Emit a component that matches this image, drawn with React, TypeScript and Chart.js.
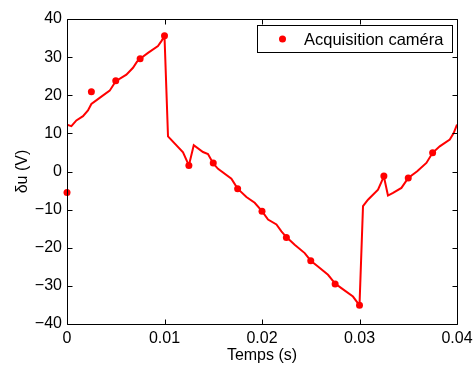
import React, { useEffect, useRef } from 'react';
import { Chart, registerables } from 'chart.js';

Chart.register(...registerables);

// Continuous signal (line)
const lineTimes = [
  0, 0.00045, 0.00096, 0.00164, 0.00215, 0.0025, 0.00335, 0.00438, 0.005, 0.00609,
  0.00677, 0.00718, 0.0075, 0.00831, 0.00933, 0.00968, 0.01, 0.01036, 0.0119, 0.0125,
  0.013, 0.01395, 0.01446, 0.015, 0.01549, 0.01686, 0.0175, 0.0184, 0.01925, 0.02,
  0.02062, 0.02148, 0.02199, 0.0225, 0.02335, 0.02438, 0.025, 0.02574, 0.02677, 0.0275,
  0.02814, 0.02933, 0.03, 0.03036, 0.03087, 0.0319, 0.0325, 0.03292, 0.03344, 0.0343,
  0.035, 0.03592, 0.03686, 0.0375, 0.03823, 0.03926, 0.03966, 0.04,
];
const lineValues = [
  12.3, 11.9, 13.4, 14.5, 16.0, 17.7, 19.3, 21.2, 23.7, 25.4,
  27.2, 28.8, 29.6, 31.1, 32.9, 34.2, 35.5, 9.2, 5.0, 1.6,
  6.9, 5.1, 4.6, 2.1, 0.7, -1.9, -4.5, -6.7, -8.2, -10.4,
  -12.6, -13.9, -15.7, -17.2, -19.2, -21.4, -23.4, -24.9, -27.1, -29.4,
  -30.6, -32.8, -35.1, -9.1, -7.4, -4.75, -1.3, -6.3, -5.6, -4.3,
  -1.7, 0.05, 2.25, 4.9, 6.6, 8.4, 10.1, 12.3,
];

// Camera acquisitions (markers)
const markerTimes = [
  0, 0.0025, 0.005, 0.0075, 0.01, 0.0125, 0.015, 0.0175,
  0.02, 0.0225, 0.025, 0.0275, 0.03, 0.0325, 0.035, 0.0375,
];
const markerValues = [
  -5.5, 20.9, 23.8, 29.6, 35.6, 1.6, 2.2, -4.5,
  -10.4, -17.3, -23.4, -29.5, -35.1, -1.2, -1.7, 4.9,
];

const xTicks = [0, 0.01, 0.02, 0.03, 0.04];
const xTickLabels = ['0', '0.01', '0.02', '0.03', '0.04'];
const yTicks = [-40, -30, -20, -10, 0, 10, 20, 30, 40];
const yTickLabels = ['\u221240', '\u221230', '\u221220', '\u221210', '0', '10', '20', '30', '40'];

const legendLabel = 'Acquisition caméra';
const xTitle = 'Temps (s)';
const yTitle = 'δu (V)';

const FONT = "'Liberation Sans', Arial, Helvetica, sans-serif";
const RED = '#ff0000';

const framePlugin = {
  id: 'frameAndLegend',
  afterDraw(chart: any) {
    const { ctx, chartArea } = chart;
    const { left, right, top, bottom } = chartArea;
    const xs = chart.scales.x;
    const ys = chart.scales.y;
    const tl = 5;
    ctx.save();
    ctx.strokeStyle = '#000';
    ctx.lineWidth = 1;
    const L = Math.round(left) + 0.5;
    const R = Math.round(right) + 0.5;
    const T = Math.round(top) + 0.5;
    const B = Math.round(bottom) + 0.5;
    ctx.beginPath();
    ctx.rect(L, T, R - L, B - T);
    ctx.stroke();
    ctx.beginPath();
    xTicks.forEach((v) => {
      const px = Math.round(xs.getPixelForValue(v)) + 0.5;
      ctx.moveTo(px, B);
      ctx.lineTo(px, B - tl);
      ctx.moveTo(px, T);
      ctx.lineTo(px, T + tl);
    });
    yTicks.forEach((v) => {
      const py = Math.round(ys.getPixelForValue(v)) + 0.5;
      ctx.moveTo(L, py);
      ctx.lineTo(L + tl, py);
      ctx.moveTo(R, py);
      ctx.lineTo(R - tl, py);
    });
    ctx.stroke();

    // Legend box
    const lx = Math.round(right - 200) + 0.5;
    const ly = Math.round(top + 6) + 0.5;
    const lw = 195;
    const lh = 27;
    ctx.fillStyle = '#fff';
    ctx.fillRect(lx, ly, lw, lh);
    ctx.strokeRect(lx, ly, lw, lh);
    ctx.fillStyle = RED;
    ctx.beginPath();
    ctx.arc(lx + 25, ly + lh / 2, 3.5, 0, Math.PI * 2);
    ctx.fill();
    ctx.fillStyle = '#000';
    ctx.font = `16.5px ${FONT}`;
    ctx.textBaseline = 'middle';
    ctx.textAlign = 'left';
    ctx.fillText(legendLabel, lx + 46.5, ly + lh / 2 + 1);
    ctx.restore();
  },
};

export default function App() {
  const ref = useRef<HTMLCanvasElement | null>(null);

  useEffect(() => {
    if (!ref.current) return;
    const lineData = lineTimes.map((t, i) => ({ x: t, y: lineValues[i] }));
    const markerData = markerTimes.map((t, i) => ({ x: t, y: markerValues[i] }));
    const chart = new Chart(ref.current, {
      type: 'line',
      data: {
        datasets: [
          {
            label: 'signal',
            data: lineData,
            borderColor: RED,
            backgroundColor: RED,
            borderWidth: 2,
            pointRadius: 0,
            tension: 0,
            order: 2,
          },
          {
            label: legendLabel,
            data: markerData,
            showLine: false,
            borderColor: RED,
            backgroundColor: RED,
            pointRadius: 3.5,
            pointBorderWidth: 0,
            clip: false as any,
            order: 1,
          },
        ],
      },
      options: {
        responsive: false,
        animation: false,
        layout: { padding: { left: 0, top: 19, right: 16, bottom: 0 } },
        plugins: {
          legend: { display: false },
          tooltip: { enabled: false },
        },
        scales: {
          x: {
            type: 'linear',
            min: 0,
            max: 0.04,
            grid: { display: false, drawTicks: false },
            border: { display: false },
            afterBuildTicks: (s: any) => {
              s.ticks = xTicks.map((v) => ({ value: v }));
            },
            afterFit: (s: any) => {
              s.height = 41;
              s.paddingLeft = 0;
              s.paddingRight = 0;
            },
            ticks: {
              padding: 5,
              color: '#000',
              font: { family: FONT, size: 16 },
              maxRotation: 0,
              autoSkip: false,
              callback: (v: any) => {
                const i = xTicks.findIndex((t) => Math.abs(t - Number(v)) < 1e-9);
                return i >= 0 ? xTickLabels[i] : '';
              },
            },
            title: {
              display: true,
              text: xTitle,
              color: '#000',
              font: { family: FONT, size: 16 },
              padding: { top: 0, bottom: 0 },
            },
          },
          y: {
            type: 'linear',
            min: -40,
            max: 40,
            grid: { display: false, drawTicks: false },
            border: { display: false },
            afterBuildTicks: (s: any) => {
              s.ticks = yTicks.map((v) => ({ value: v }));
            },
            afterFit: (s: any) => {
              s.width = 67;
              s.paddingTop = 0;
              s.paddingBottom = 0;
            },
            ticks: {
              padding: 5,
              color: '#000',
              font: { family: FONT, size: 16 },
              autoSkip: false,
              callback: (v: any) => {
                const i = yTicks.findIndex((t) => Math.abs(t - Number(v)) < 1e-9);
                return i >= 0 ? yTickLabels[i] : '';
              },
            },
            title: {
              display: true,
              text: yTitle,
              color: '#000',
              font: { family: FONT, size: 16 },
              padding: { top: 13, bottom: 0 },
            },
          },
        },
      },
      plugins: [framePlugin],
    });
    return () => chart.destroy();
  }, []);

  return (
    <div style={{ position: 'absolute', left: 0, top: 0, width: 473, height: 365, background: '#fff' }}>
      <canvas ref={ref} width={473} height={365} style={{ display: 'block' }} />
    </div>
  );
}
